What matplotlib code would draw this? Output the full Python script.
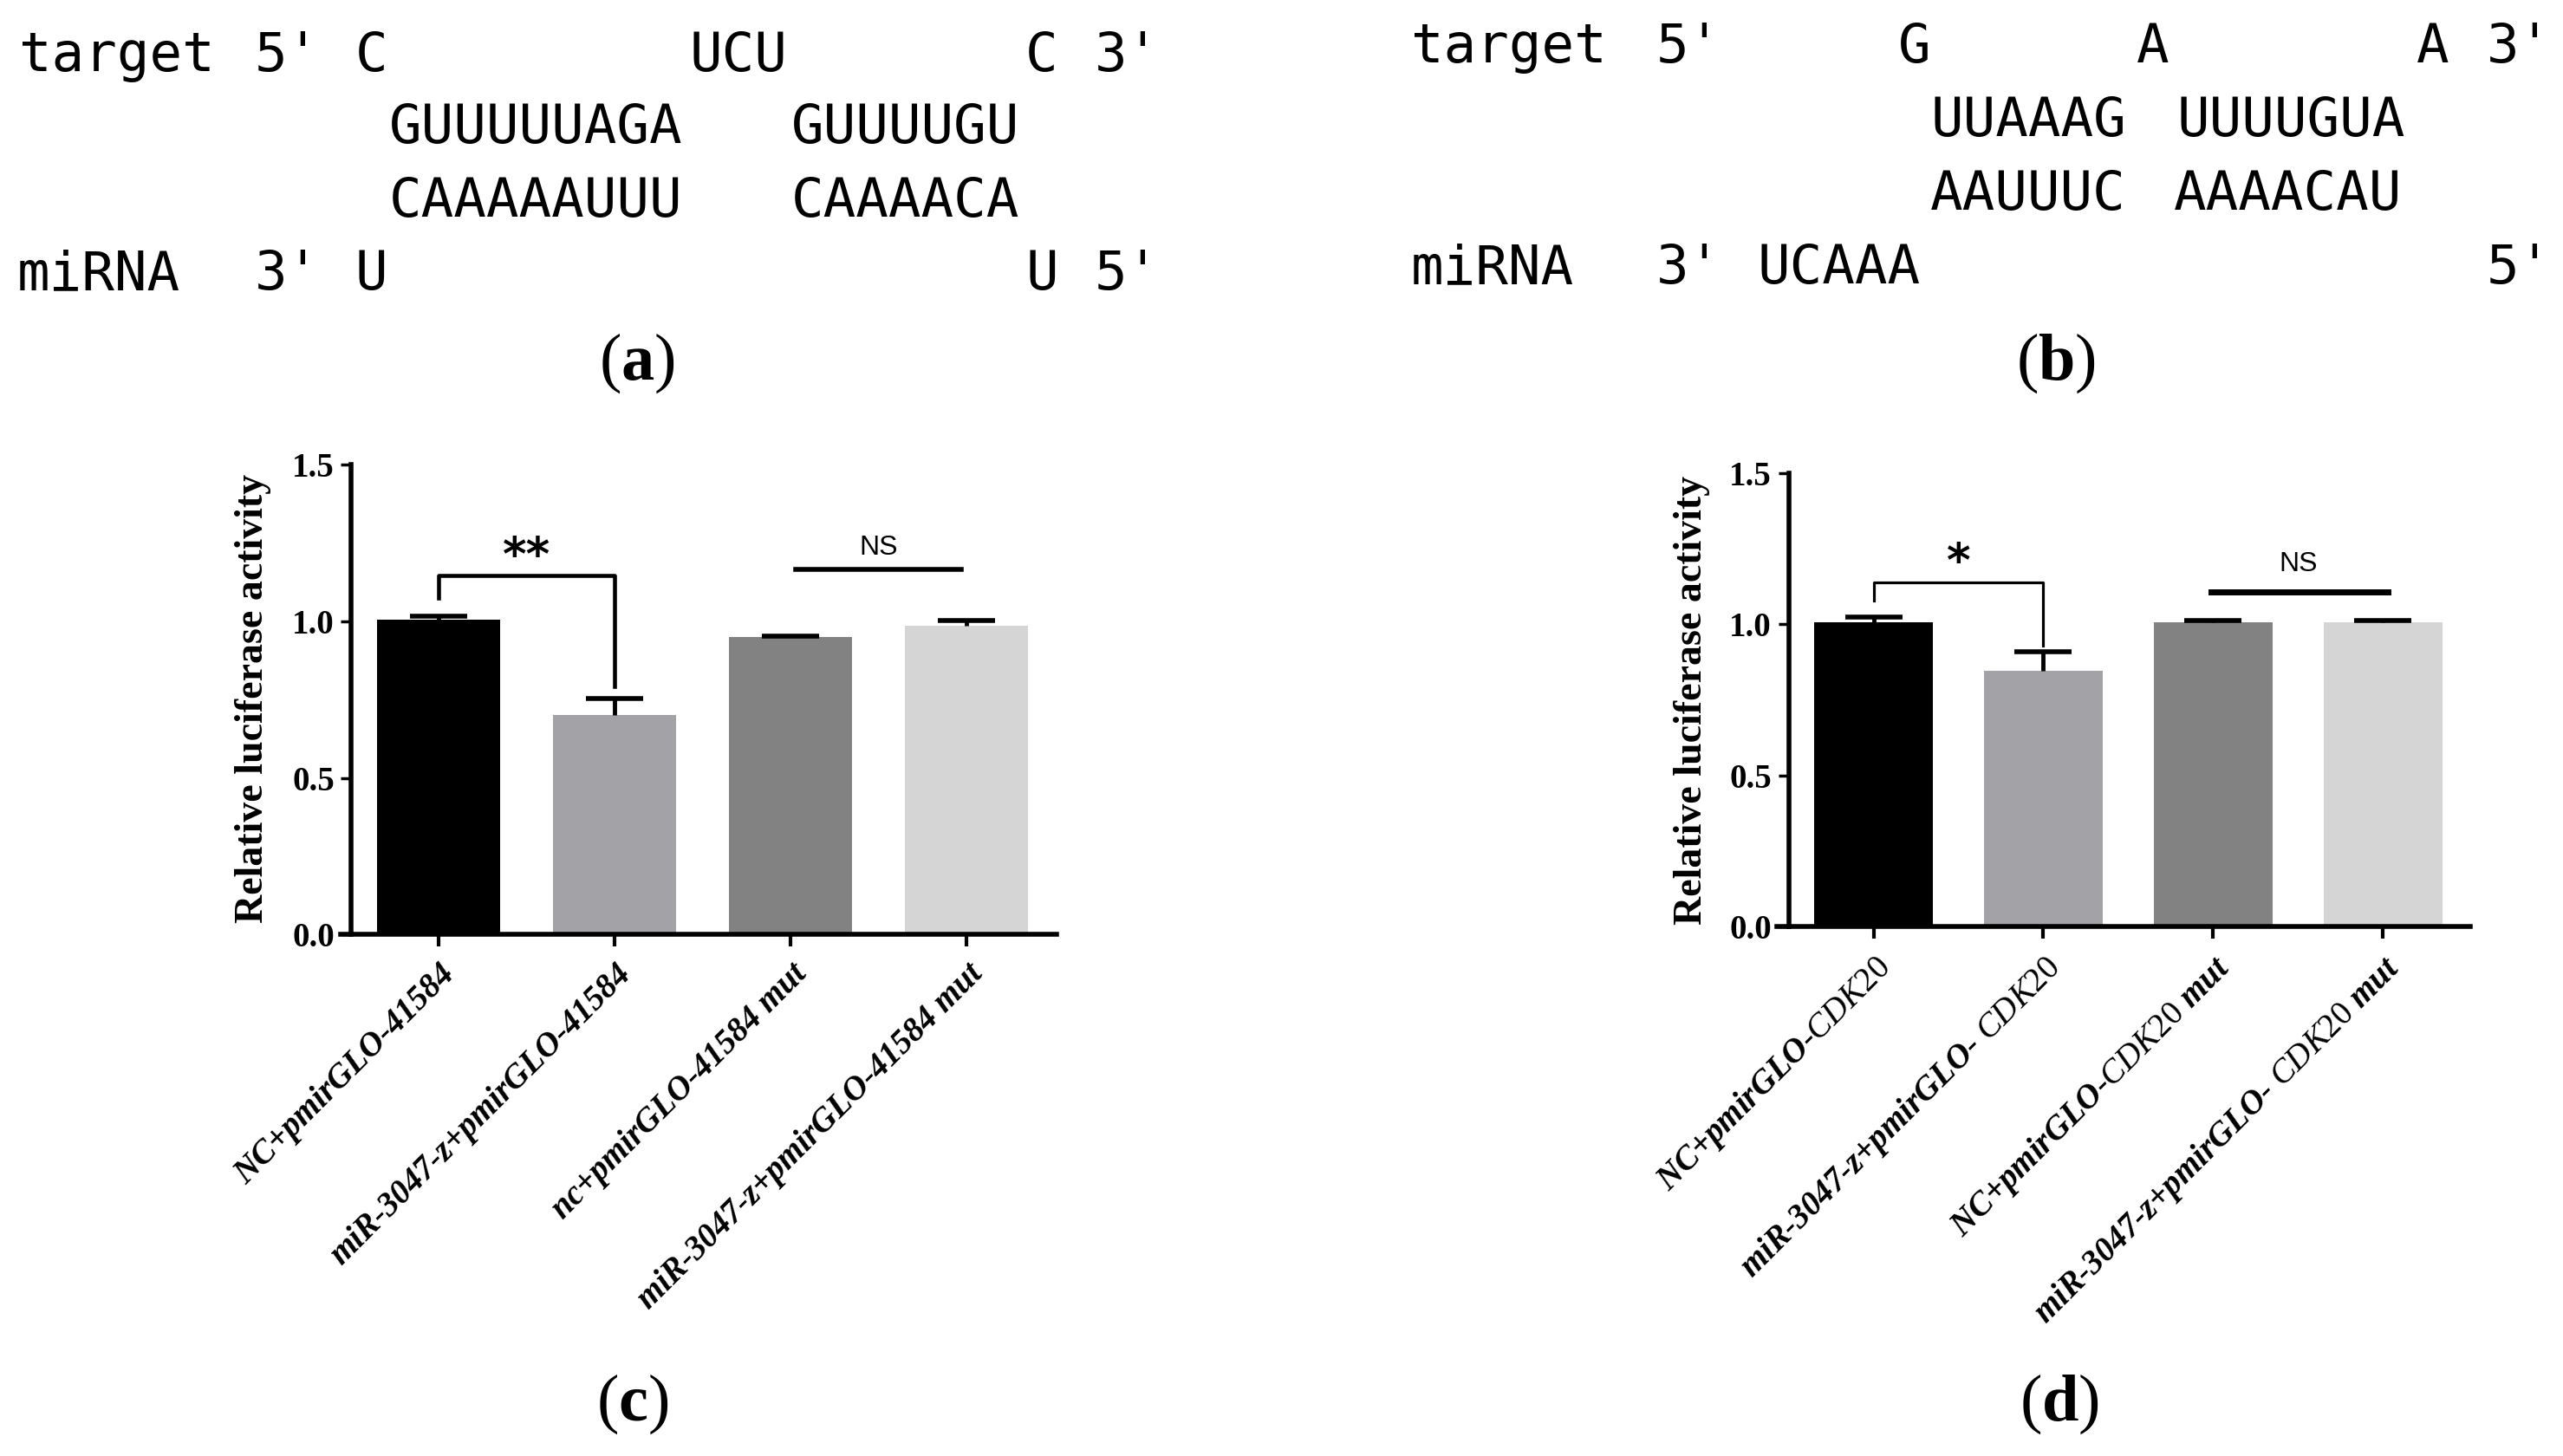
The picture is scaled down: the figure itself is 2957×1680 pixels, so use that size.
"""miRNA target pairing (a, b) and dual-luciferase assay bars (c, d)"""
import numpy as np
import matplotlib.pyplot as plt

plt.rcParams['mathtext.fontset'] = 'custom'
plt.rcParams['mathtext.rm'] = 'Liberation Serif'
plt.rcParams['mathtext.it'] = 'Liberation Serif:italic'
plt.rcParams['mathtext.bf'] = 'Liberation Serif:bold'
plt.rcParams['mathtext.bfit'] = 'Liberation Serif:italic:bold'

W, H = 2957, 1680

# ---- data -------------------------------------------------------------
# (a) pairing of miRNA with the 41584 target, one row per line
a_rows = [
    ["target", "5'", "C", "UCU", "C", "3'"],
    ["GUUUUUAGA", "GUUUUGU"],
    ["CAAAAAUUU", "CAAAACA"],
    ["miRNA", "3'", "U", "U", "5'"],
]
# (b) pairing of miRNA with CDK20
b_rows = [
    ["target", "5'", "G", "A", "A", "3'"],
    ["UUAAAG", "UUUUGUA"],
    ["AAUUUC", "AAAACAU"],
    ["miRNA", "3'", "UCAAA", "5'"],
]

c_labels = ['NC+pmirGLO-41584', 'miR-3047-z+pmirGLO-41584',
            'nc+pmirGLO-41584 mut', 'miR-3047-z+pmirGLO-41584 mut']
c_values = [1.005, 0.700, 0.950, 0.985]
c_errors = [0.012, 0.054, 0.004, 0.017]

d_labels = [r'NC+pmirGLO-$\mathit{CDK20}$', r'miR-3047-z+pmirGLO- $\mathit{CDK20}$',
            r'NC+pmirGLO-$\mathit{CDK20}$ mut', r'miR-3047-z+pmirGLO- $\mathit{CDK20}$ mut']
d_values = [1.008, 0.846, 1.008, 1.008]
d_errors = [0.017, 0.063, 0.003, 0.004]

bar_colors = ['#000000', '#a3a3a7', '#828282', '#d5d5d5']
yticks = [0.0, 0.5, 1.0, 1.5]

# ---- layout (pixel positions of the original figure) -------------------
a_x = [[27, 299, 415, 801, 1188, 1268], [454, 918], [454, 918], [25, 299, 415, 1188, 1268]]
a_y = [82, 165, 250, 334]
b_x = [[1633, 1916, 2195, 2470, 2793, 2874], [2232, 2516], [2232, 2513], [1633, 1916, 2033, 2874]]
b_y = [72, 157, 242, 327]


def fx(px):
    return px / W


def fy(py):
    return 1 - py / H


fig = plt.figure(figsize=(W / 100, H / 100), dpi=100)

for rows, xs, ys in [(a_rows, a_x, a_y), (b_rows, b_x, b_y)]:
    for row, xrow, yy in zip(rows, xs, ys):
        for txt, xx in zip(row, xrow):
            fig.text(fx(xx - 5), fy(yy), txt, ha='left', va='baseline',
                     fontsize=45, family='DejaVu Sans Mono')

for lab, (px, py) in zip('abcd', [(735, 419), (2372, 419), (730, 1620), (2376, 1620)]):
    fig.text(fx(px), fy(py), r'($\mathbf{%s}$)' % lab, ha='center', va='center',
             fontsize=55, family='Liberation Serif')


def bar_panel(rect, xlim, labels, values, errors, xpad, ypad):
    ax = fig.add_axes(rect)
    # spine moves reset the ticks, so do them first
    for s in ['top', 'right']:
        ax.spines[s].set_visible(False)
    ax.spines['left'].set_position(('data', -0.5))
    ax.spines['left'].set_linewidth(4)
    ax.spines['bottom'].set_linewidth(4)

    x = np.arange(len(values))
    ax.bar(x, values, width=0.7, color=bar_colors, zorder=1)
    ax.errorbar(x, values, yerr=[np.zeros(len(errors)), errors], fmt='none',
                ecolor='black', elinewidth=3.5, capsize=0, zorder=3)
    ax.plot(x, np.add(values, errors), ls='none', marker='_', ms=48, mew=4,
            color='black', zorder=3)
    ax.set_xlim(*xlim)
    ax.set_ylim(0, 1.5)
    ax.set_yticks(yticks)
    ax.set_yticklabels(['%.1f' % v for v in yticks], fontsize=28,
                       family='Liberation Serif', fontweight='bold')
    ax.set_xticks(x)
    ax.set_xticklabels(labels, rotation=45, ha='right', va='top', rotation_mode='anchor',
                       fontsize=28, family='Liberation Serif', fontweight='bold', style='italic')
    ax.tick_params(axis='y', width=2.5, length=9, pad=ypad)
    ax.tick_params(axis='x', width=3, length=10, pad=xpad)
    return ax


# (c)
axc = bar_panel([fx(393), fy(1078), fx(1219) - fx(393), fy(536.5) - fy(1078)],
                (-0.557, 3.512), c_labels, c_values, c_errors, 10, 4.5)
axc.plot([0, 0, 1, 1], [1.075, 1.147, 1.147, 0.791], color='black', lw=3.3)
axc.plot([2.03, 2.97], [1.166, 1.166], color='black', lw=4)
axc.text(0.5, 1.163, '**', ha='center', va='baseline', fontsize=38,
         fontweight='bold', family='DejaVu Sans')
axc.text(2.5, 1.213, 'NS', ha='center', va='baseline', fontsize=23, family='Liberation Sans')
fig.text(fx(292), fy(806), 'Relative luciferase activity', rotation=90, ha='center',
         va='center', fontsize=33, fontweight='bold', family='Liberation Serif')

# (d)
axd = bar_panel([fx(2050), fy(1069), fx(2850) - fx(2050), fy(546) - fy(1069)],
                (-0.569, 3.513), d_labels, d_values, d_errors, 10, 5)
axd.plot([0, 0, 1, 1], [1.078, 1.138, 1.138, 0.929], color='black', lw=2.3)
axd.plot([1.985, 3.03], [1.107, 1.107], color='black', lw=5)
axd.text(0.5, 1.16, '*', ha='center', va='baseline', fontsize=38,
         fontweight='bold', family='DejaVu Sans')
axd.text(2.5, 1.176, 'NS', ha='center', va='baseline', fontsize=23, family='Liberation Sans')
fig.text(fx(1952), fy(808), 'Relative luciferase activity', rotation=90, ha='center',
         va='center', fontsize=33, fontweight='bold', family='Liberation Serif')

fig.savefig('out.png', dpi=100)
